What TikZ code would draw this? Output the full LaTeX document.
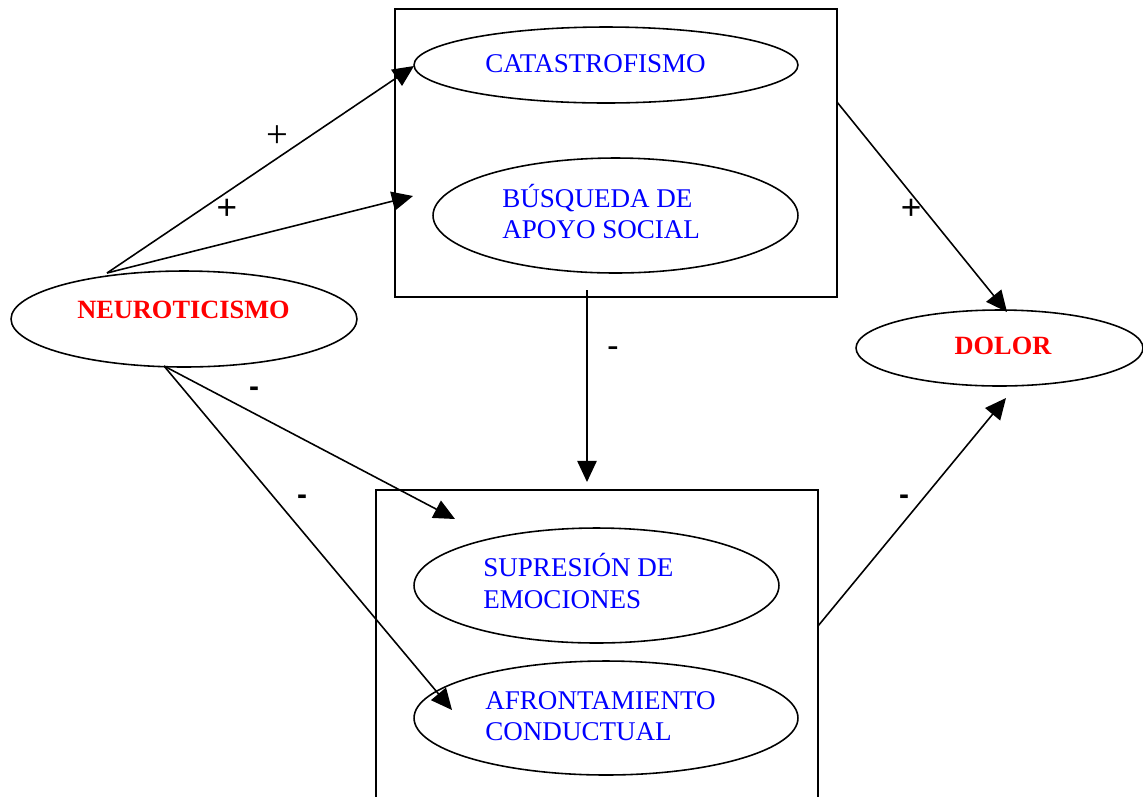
\documentclass[tikz,border=0pt]{standalone}
\usepackage{fontspec}
\setmainfont{Liberation Serif}
\newfontfamily\arialf{Liberation Sans}
\usetikzlibrary{shapes.geometric,arrows.meta}
\definecolor{tblue}{RGB}{0,0,255}
\definecolor{tred}{RGB}{255,0,0}
\tikzset{
  ell/.style={draw=black, line width=0.9pt, ellipse, inner sep=0pt},
  boxr/.style={draw=black, line width=1pt},
  conn/.style={line width=0.9pt, -{Triangle[length=12pt,width=11pt]}},
  btxt/.style={text=tblue, font=\fontsize{15.4}{17.6}\selectfont, align=left, inner sep=0pt},
  rtxt/.style={text=tred, font=\fontsize{15}{17}\selectfont\bfseries, inner sep=0pt},
  plab/.style={font=\fontsize{22}{24}\selectfont, inner sep=0pt},
  alab/.style={font=\arialf\fontsize{20}{22}\selectfont, inner sep=0pt},
  mlab/.style={font=\arialf\fontsize{17}{20}\selectfont\bfseries, inner sep=0pt},
}
\begin{document}
\begin{tikzpicture}[x=0.02cm,y=-0.02cm]
\useasboundingbox (0,0) rectangle (1143,796);
% boxes
\draw[boxr] (395,9) rectangle (837,297);
\draw[boxr] (376,800) -- (376,490) -- (818,490) -- (818,800);
% ellipses
\node[ell, minimum width=7.68cm, minimum height=1.52cm] (cat) at (606,65) {};
\node[ell, minimum width=7.3cm, minimum height=2.3cm] (bus) at (615.5,215.5) {};
\node[ell, minimum width=6.92cm, minimum height=1.92cm] (neu) at (184,319) {};
\node[ell, minimum width=5.74cm, minimum height=1.52cm] (dol) at (999.5,348) {};
\node[ell, minimum width=7.3cm, minimum height=2.3cm] (sup) at (596.5,585.5) {};
\node[ell, minimum width=7.68cm, minimum height=2.28cm] (afr) at (606,718) {};
% texts
\node[btxt, anchor=base west] (tcat) at (485,72) {CATASTROFISMO};
\node[btxt, anchor=base west] (tbus) at (502,207) {BÚSQUEDA DE};
\node[btxt, anchor=base west] (tbus2) at (502,238) {APOYO SOCIAL};
\node[btxt, anchor=base west] (tsup) at (483,576) {SUPRESIÓN DE};
\node[btxt, anchor=base west] (tsup2) at (483,608) {EMOCIONES};
\node[btxt, anchor=base west] (tafr) at (485,709) {AFRONTAMIENTO};
\node[btxt, anchor=base west] (tafr2) at (485,740) {CONDUCTUAL};
\node[rtxt, anchor=base] (tneu) at (183.5,318) {NEUROTICISMO};
\node[rtxt, anchor=base] (tdol) at (1003,354) {DOLOR};
% connector end points
\coordinate (n1) at (107,273);
\coordinate (n2) at (164,366);
\coordinate (e1) at (414,66);
\coordinate (e2) at (413,196);
\coordinate (e3) at (455,519);
\coordinate (e4) at (452,710);
\coordinate (t1) at (587,290);
\coordinate (b1) at (587,482);
\coordinate (t2) at (837,102);
\coordinate (d1) at (1007,312);
\coordinate (b2) at (818,626);
\coordinate (d2) at (1006,398);
% connectors
\draw[conn] (n1) -- (e1);
\draw[conn] (n1) -- (e2);
\draw[conn] (n2) -- (e3);
\draw[conn] (n2) -- (e4);
\draw[conn] (t1) -- (b1);
\draw[conn] (t2) -- (d1);
\draw[conn] (b2) -- (d2);
% labels
\node[plab] (l1) at (277,137) {+};
\node[alab] (l2) at (227,209) {+};
\node[mlab] (l3) at (254,392) {-};
\node[mlab] (l4) at (302,500) {-};
\node[alab] (l5) at (613,352) {-};
\node[alab] (l6) at (911,209) {+};
\node[mlab] (l7) at (904,500) {-};
\end{tikzpicture}
\end{document}
